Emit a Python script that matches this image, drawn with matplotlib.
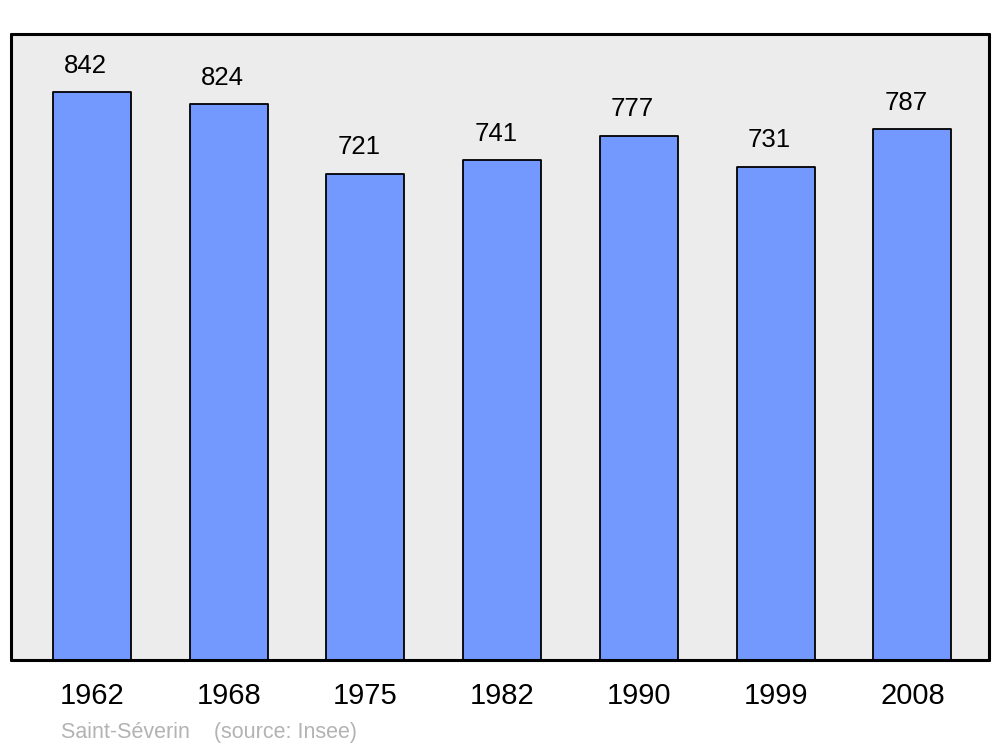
import matplotlib.pyplot as plt

# Données de population
annees = ["1962", "1968", "1975", "1982", "1990", "1999", "2008"]
population = [842, 824, 721, 741, 777, 731, 787]
commune = "Saint-Séverin"
source = "(source: Insee)"

plt.rcParams['font.family'] = ['Liberation Sans', 'DejaVu Sans']

fig = plt.figure(figsize=(10, 7.47), dpi=100)
ax = fig.add_axes([0.011, 0.1165, 0.978, 0.838])
ax.set_facecolor('#ececec')

positions = list(range(len(annees)))
barres = ax.bar(positions, population, width=0.57, color='#7399ff',
                edgecolor='black', linewidth=1.3, zorder=2)
for b in barres:
    b.set_joinstyle('round')

# Étiquettes au-dessus des barres
for x, v in zip(positions, population):
    ax.annotate(str(v), xy=(x, v), xytext=(-4.5, 19), textcoords='offset points',
                ha='center', va='center', fontsize=18.5)

ax.set_xlim(-0.592, 6.56)
ax.set_ylim(0, 928)
ax.set_xticks(positions)
ax.set_xticklabels(annees, fontsize=21)
ax.tick_params(axis='x', length=0, pad=15.5)
ax.set_yticks([])
for spine in ax.spines.values():
    spine.set_linewidth(2.2)
    spine.set_joinstyle('round')
    spine.set_capstyle('round')

fig.text(0.061, 0.020, commune + "    " + source, fontsize=15.5,
         color='#b3b3b3', ha='left', va='center')

fig.savefig('out.png', dpi=100)
